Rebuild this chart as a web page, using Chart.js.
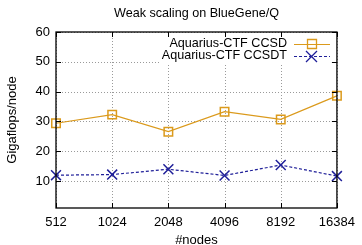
<!DOCTYPE html>
<html>
<head>
<meta charset="utf-8">
<script src="https://cdn.jsdelivr.net/npm/chart.js@4"></script>
<style>
  html, body { margin: 0; padding: 0; background: #fff; }
  #wrap { width: 362px; height: 245px; }
</style>
</head>
<body>
<div id="wrap"><canvas id="grafico"></canvas></div>
<script>
// dados
const nodes = ['512', '1024', '2048', '4096', '8192', '16384'];
const ccsd = [29.4, 32.3, 26.6, 33.3, 30.7, 38.6];
const ccsdt = [12.0, 12.2, 14.0, 11.9, 15.4, 11.7];
const yTicks = [10, 20, 30, 40, 50, 60];

const laranja = '#db9a1c';
const azul = '#1f1f99';
const fonte = "'Liberation Sans', Arial, sans-serif";

// grade pontilhada desenhada antes das séries
const grade = {
  id: 'grade',
  beforeDatasetsDraw(chart) {
    const { ctx, chartArea: a, scales } = chart;
    ctx.save();
    ctx.strokeStyle = '#9a9a9a';
    ctx.lineWidth = 1;
    ctx.setLineDash([1, 2]);
    ctx.beginPath();
    scales.x.ticks.forEach((t, i) => {
      const x = Math.round(scales.x.getPixelForTick(i)) + 0.5;
      ctx.moveTo(x, a.top); ctx.lineTo(x, a.bottom);
    });
    scales.y.ticks.forEach((t, i) => {
      const y = Math.round(scales.y.getPixelForTick(i)) + 0.5;
      ctx.moveTo(a.left, y); ctx.lineTo(a.right, y);
    });
    ctx.stroke();
    ctx.restore();
  }
};

// titulo, legenda e marcas internas no estilo gnuplot
const estiloGnuplot = {
  id: 'estiloGnuplot',
  afterDraw(chart) {
    const { ctx, chartArea: a, scales } = chart;
    ctx.save();
    // legenda opaca
    ctx.fillStyle = '#fff';
    ctx.fillRect(160, 35, 176, 28);

    // caixa e marcas para dentro
    ctx.strokeStyle = '#000';
    ctx.lineWidth = 1.3;
    ctx.strokeRect(a.left, a.top, a.right - a.left, a.bottom - a.top);
    ctx.lineWidth = 1;
    ctx.beginPath();
    scales.x.ticks.forEach((t, i) => {
      const x = Math.round(scales.x.getPixelForTick(i)) + 0.5;
      ctx.moveTo(x, a.bottom); ctx.lineTo(x, a.bottom - 5);
      ctx.moveTo(x, a.top); ctx.lineTo(x, a.top + 5);
    });
    scales.y.ticks.forEach((t, i) => {
      const y = Math.round(scales.y.getPixelForTick(i)) + 0.5;
      ctx.moveTo(a.left, y); ctx.lineTo(a.left + 5, y);
      ctx.moveTo(a.right, y); ctx.lineTo(a.right - 5, y);
    });
    ctx.stroke();

    ctx.font = '12.6px ' + fonte;
    ctx.textAlign = 'right';
    ctx.textBaseline = 'middle';
    const itens = [
      { texto: 'Aquarius-CTF CCSD', cor: laranja, dash: [], y: 44 },
      { texto: 'Aquarius-CTF CCSDT', cor: azul, dash: [3, 2], y: 56 }
    ];
    itens.forEach((it, k) => {
      ctx.fillStyle = '#000';
      ctx.fillText(it.texto, 287, it.y);
      ctx.strokeStyle = it.cor;
      ctx.setLineDash(it.dash);
      ctx.beginPath();
      ctx.moveTo(294, it.y + 0.5); ctx.lineTo(330, it.y + 0.5);
      ctx.stroke();
      ctx.setLineDash([]);
      ctx.beginPath();
      if (k === 0) {
        ctx.rect(307.5, it.y - 4.5, 9, 9);
      } else {
        ctx.moveTo(306, it.y - 5); ctx.lineTo(317, it.y + 6);
        ctx.moveTo(317, it.y - 5); ctx.lineTo(306, it.y + 6);
      }
      ctx.lineWidth = 1.3;
      ctx.stroke();
      ctx.lineWidth = 1;
    });

    // titulo centrado na área do gráfico
    ctx.fillStyle = '#000';
    ctx.textAlign = 'center';
    ctx.fillText('Weak scaling on BlueGene/Q', (a.left + a.right) / 2, 14);
    ctx.restore();
  }
};

new Chart(document.getElementById('grafico'), {
  type: 'line',
  data: {
    labels: nodes,
    datasets: [
      {
        label: 'Aquarius-CTF CCSD',
        data: ccsd,
        borderColor: laranja,
        backgroundColor: 'transparent',
        borderWidth: 1.2,
        pointStyle: 'rect',
        pointRadius: 6,
        pointBorderWidth: 1.5,
        pointBorderColor: laranja,
        pointBackgroundColor: 'transparent',
        tension: 0
      },
      {
        label: 'Aquarius-CTF CCSDT',
        data: ccsdt,
        borderColor: azul,
        backgroundColor: 'transparent',
        borderWidth: 1.2,
        borderDash: [3, 2],
        pointStyle: 'crossRot',
        pointRadius: 7,
        pointBorderWidth: 1.5,
        pointBorderColor: azul,
        tension: 0
      }
    ]
  },
  options: {
    responsive: true,
    maintainAspectRatio: false,
    animation: false,
    layout: { padding: { top: 32, right: 18, left: 0, bottom: 0 } },
    plugins: {
      legend: { display: false },
      tooltip: { enabled: false }
    },
    scales: {
      x: {
        type: 'category',
        offset: false,
        grid: { display: false, drawTicks: false },
        border: { display: false },
        ticks: { color: '#000', font: { family: fonte, size: 13 }, padding: 7, maxRotation: 0, autoSkip: false },
        title: { display: true, text: '#nodes', color: '#000', font: { family: fonte, size: 13 }, padding: { top: 3, bottom: -3 } },
        afterFit(s) { s.height = 37; }
      },
      y: {
        min: 1,
        max: 60,
        afterBuildTicks(s) { s.ticks = yTicks.map(v => ({ value: v })); },
        grid: { display: false, drawTicks: false },
        border: { display: false },
        ticks: { color: '#000', font: { family: fonte, size: 13 }, padding: 6 },
        title: { display: true, text: 'Gigaflops/node', color: '#000', font: { family: fonte, size: 13 }, padding: { top: 5, bottom: 4 } },
        afterFit(s) { s.width = 56; }
      }
    }
  },
  plugins: [grade, estiloGnuplot]
});
</script>
</body>
</html>
